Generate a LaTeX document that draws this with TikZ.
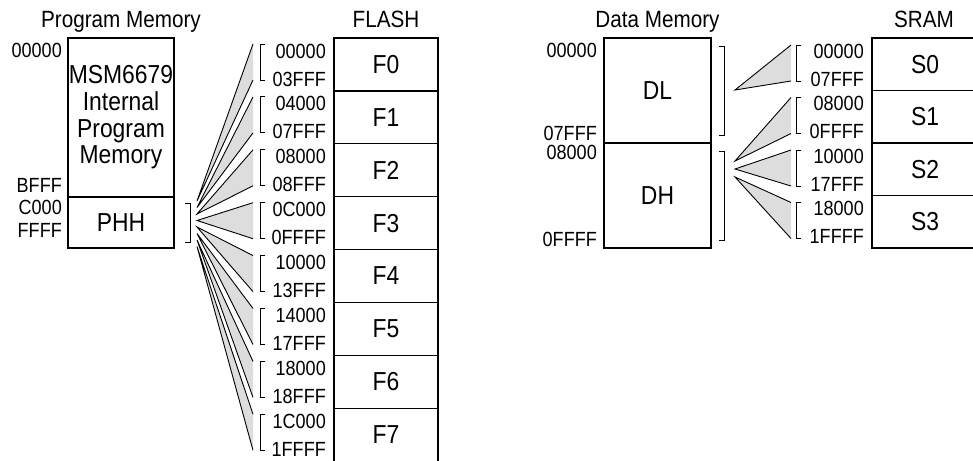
\documentclass[tikz,border=0pt]{standalone}
\usepackage{fontspec}
\setmainfont{Liberation Sans}[FakeStretch=0.88]
\usetikzlibrary{positioning}
\definecolor{fangray}{RGB}{221,221,221}

\begin{document}
\begin{tikzpicture}[
  x=1pt, y=-1pt,
  font=\fontsize{20.5}{25}\selectfont,
  mem/.style={draw, line width=1.2pt, inner sep=0pt, outer sep=0pt, minimum width=104pt,
    font=\fontsize{26}{26.7}\selectfont},
  flashcell/.style={mem, minimum height=52.9pt},
  sramcell/.style={mem, minimum width=106pt, minimum height=52.5pt},
  addr/.style={anchor=east, inner sep=0pt},
  ttl/.style={anchor=base, inner sep=0pt, font=\fontsize{23.5}{28}\selectfont},
  brk/.style={line width=0.9pt},
  fan/.style={line width=0.9pt}
]
\useasboundingbox (0,0) rectangle (973,460);

% program memory
\node[mem, minimum width=106pt, minimum height=159pt, anchor=north west, align=center] (pint) at (68,38) {MSM6679\\Internal\\Program\\Memory};
\node[mem, minimum width=106pt, minimum height=51pt, below=0pt of pint] (phh) {PHH};
\node[ttl] (tprog) at (121,28) {Program Memory};
\node[addr] (pa0) at (62,50) {00000};
\node[addr] (pa1) at (62,185) {BFFF};
\node[addr] (pa2) at (62,207) {C000};
\node[addr] (pa3) at (62,230) {FFFF};
\draw[brk] ([xshift=11pt,yshift=-6pt]phh.north east) -- ([xshift=16pt,yshift=-6pt]phh.north east)
  -- ([xshift=16pt,yshift=6pt]phh.south east) -- ([xshift=11pt,yshift=6pt]phh.south east);

% flash
\node[flashcell, anchor=north west] (f0) at (334,38) {F0};
\node[flashcell, below=0pt of f0] (f1) {F1};
\node[flashcell, below=0pt of f1] (f2) {F2};
\node[flashcell, below=0pt of f2] (f3) {F3};
\node[flashcell, below=0pt of f3] (f4) {F4};
\node[flashcell, below=0pt of f4] (f5) {F5};
\node[flashcell, below=0pt of f5] (f6) {F6};
\node[flashcell, below=0pt of f6] (f7) {F7};
\node[ttl] (tflash) at (386,28) {FLASH};

\foreach \i/\lo/\hi/\dy in {0/00000/03FFF/21.5, 1/04000/07FFF/15, 2/08000/08FFF/8.5, 3/0C000/0FFFF/2,
    4/10000/13FFF/-4.5, 5/14000/17FFF/-11, 6/18000/18FFF/-17.5, 7/1C000/1FFFF/-24} {
  \node[addr] (flo\i) at ([xshift=-8pt,yshift=-13pt]f\i.north west) {\lo};
  \node[addr] (fhi\i) at ([xshift=-8pt,yshift=-41pt]f\i.north west) {\hi};
  \coordinate (fa\i) at ([xshift=23pt,yshift=\dy pt]phh.east);
  \coordinate (ft\i) at ([xshift=-81pt,yshift=-6pt]f\i.north west);
  \coordinate (fb\i) at ([xshift=-81pt,yshift=-42pt]f\i.north west);
  \fill[fangray] (fa\i) -- (ft\i) -- (fb\i) -- cycle;
  \draw[fan] (ft\i) -- (fa\i) -- (fb\i);
  \draw[brk] ([xshift=12pt]ft\i) -- ([xshift=7pt]ft\i) -- ([xshift=7pt]fb\i) -- ([xshift=12pt]fb\i);
}

% data memory
\node[mem, minimum width=107pt, minimum height=105pt, anchor=north west] (dl) at (604,38) {DL};
\node[mem, minimum width=107pt, minimum height=105pt, below=0pt of dl] (dh) {DH};
\node[ttl] (tdata) at (657.5,28) {Data Memory};
\node[addr] (da0) at (597,50) {00000};
\node[addr] (da1) at (597,133) {07FFF};
\node[addr] (da2) at (597,152) {08000};
\node[addr] (da3) at (597,239) {0FFFF};
\draw[brk] ([xshift=8pt,yshift=-8pt]dl.north east) -- ([xshift=13pt,yshift=-8pt]dl.north east)
  -- ([xshift=13pt,yshift=8pt]dl.south east) -- ([xshift=8pt,yshift=8pt]dl.south east);
\draw[brk] ([xshift=8pt,yshift=-8pt]dh.north east) -- ([xshift=13pt,yshift=-8pt]dh.north east)
  -- ([xshift=13pt,yshift=8pt]dh.south east) -- ([xshift=8pt,yshift=8pt]dh.south east);

% sram
\node[sramcell, anchor=north west] (s0) at (872,38) {S0};
\node[sramcell, below=0pt of s0] (s1) {S1};
\node[sramcell, below=0pt of s1] (s2) {S2};
\node[sramcell, below=0pt of s2] (s3) {S3};
\node[ttl] (tsram) at (924,28) {SRAM};

\foreach \i/\lo/\hi/\src/\dy in {0/00000/07FFF/dl/0.5, 1/08000/0FFFF/dh/34.5,
    2/10000/17FFF/dh/26.5, 3/18000/1FFFF/dh/18.5} {
  \node[addr] (slo\i) at ([xshift=-8pt,yshift=-13pt]s\i.north west) {\lo};
  \node[addr] (shi\i) at ([xshift=-8pt,yshift=-41pt]s\i.north west) {\hi};
  \coordinate (sa\i) at ([xshift=24pt,yshift=\dy pt]\src.east);
  \coordinate (st\i) at ([xshift=-81pt,yshift=-7pt]s\i.north west);
  \coordinate (sb\i) at ([xshift=-81pt,yshift=-43pt]s\i.north west);
  \fill[fangray] (sa\i) -- (st\i) -- (sb\i) -- cycle;
  \draw[fan] (st\i) -- (sa\i) -- (sb\i);
  \draw[brk] ([xshift=10pt]st\i) -- ([xshift=5pt]st\i) -- ([xshift=5pt]sb\i) -- ([xshift=10pt]sb\i);
}
\end{tikzpicture}
\end{document}
